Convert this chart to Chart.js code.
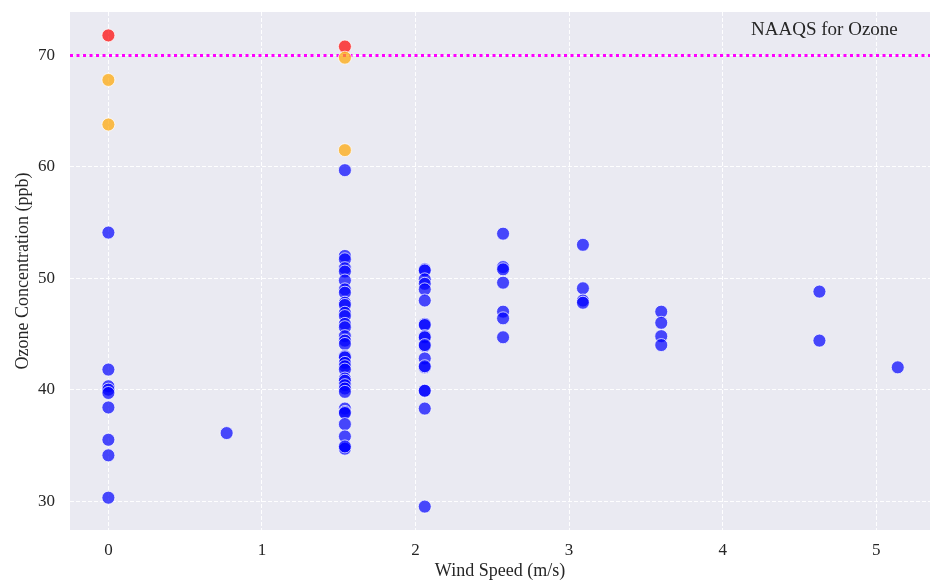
<!DOCTYPE html>
<html>
<head>
<meta charset="utf-8">
<script src="https://cdn.jsdelivr.net/npm/chart.js@4.4.1/dist/chart.umd.min.js"></script>
<style>
  html, body { margin: 0; padding: 0; background: #ffffff; overflow: hidden; }
  #wrap { width: 930px; height: 586px; }
  canvas { display: block; }
</style>
</head>
<body>
<div id="wrap"><canvas id="chart"></canvas></div>
<script>
// wind speed (m/s) and ozone (ppb) for each hourly reading
const windSpeed = [
  0, 0, 0, 0, 0, 0, 0, 0, 0, 0, 0, 0,
  0.77,
  1.54, 1.54, 1.54, 1.54, 1.54, 1.54, 1.54, 1.54, 1.54, 1.54, 1.54, 1.54, 1.54, 1.54, 1.54, 1.54,
  1.54, 1.54, 1.54, 1.54, 1.54, 1.54, 1.54, 1.54, 1.54, 1.54, 1.54, 1.54, 1.54, 1.54, 1.54, 1.54,
  1.54, 1.54, 1.54, 1.54, 1.54, 1.54,
  2.06, 2.06, 2.06, 2.06, 2.06, 2.06, 2.06, 2.06, 2.06, 2.06, 2.06, 2.06, 2.06, 2.06, 2.06, 2.06,
  2.06, 2.06, 2.06,
  2.57, 2.57, 2.57, 2.57, 2.57, 2.57, 2.57,
  3.09, 3.09, 3.09, 3.09,
  3.60, 3.60, 3.60, 3.60,
  4.63, 4.63,
  5.14
];
const ozone = [
  71.8, 67.8, 63.8, 54.1, 41.8, 40.3, 40.0, 39.7, 38.4, 35.5, 34.1, 30.3,
  36.1,
  70.8, 69.8, 61.5, 59.7, 52.0, 51.7, 50.9, 50.6, 49.8, 49.0, 48.7, 47.8, 47.6, 46.9, 46.6, 45.9,
  45.6, 44.8, 44.4, 44.1, 43.0, 42.9, 42.4, 42.1, 41.8, 41.0, 40.8, 40.4, 40.1, 39.8, 38.3, 38.0,
  37.9, 36.9, 35.8, 34.8, 34.7, 34.9,
  50.8, 50.7, 49.9, 49.5, 49.0, 48.0, 45.9, 45.8, 44.8, 44.7, 43.9, 44.0, 42.8, 42.0, 42.1, 39.9,
  39.9, 38.3, 29.5,
  54.0, 51.0, 50.8, 49.6, 47.0, 46.4, 44.7,
  53.0, 49.1, 48.0, 47.8,
  47.0, 46.0, 44.8, 44.0,
  48.8, 44.4,
  42.0
];
const naaqs = 70;
const elevated = 60;
const xTicks = [0, 1, 2, 3, 4, 5];
const yTicks = [30, 40, 50, 60, 70];
const limitLabel = 'NAAQS for Ozone';

const points = windSpeed.map((w, i) => ({ x: w, y: ozone[i] }));
const fillFor = v => v > naaqs ? 'rgba(255,0,0,0.7)' : (v > elevated ? 'rgba(255,165,0,0.7)' : 'rgba(0,0,255,0.7)');

const serif = '"Liberation Serif", "DejaVu Serif", serif';
const inkColor = '#262626';

// caption for the standard, anchored on the last wind speed value
const limitText = {
  id: 'limitText',
  afterDatasetsDraw(chart) {
    const { ctx, scales } = chart;
    ctx.save();
    ctx.font = '19px ' + serif;
    ctx.fillStyle = inkColor;
    ctx.textAlign = 'right';
    ctx.textBaseline = 'middle';
    ctx.fillText(limitLabel, scales.x.getPixelForValue(5.14), scales.y.getPixelForValue(72.3));
    ctx.restore();
  }
};

// seaborn-like grey panel behind the plot area
const panel = {
  id: 'panel',
  beforeDraw(chart) {
    const { ctx, chartArea: a } = chart;
    ctx.save();
    ctx.fillStyle = '#eaeaf2';
    ctx.fillRect(a.left, a.top, a.right - a.left, a.bottom - a.top);
    ctx.restore();
  }
};

const gridStyle = {
  color: 'rgba(255,255,255,0.95)',
  lineWidth: 1,
  drawTicks: false
};

new Chart(document.getElementById('chart'), {
  type: 'scatter',
  data: {
    datasets: [
      {
        type: 'line',
        data: [{ x: -0.25, y: naaqs }, { x: 5.35, y: naaqs }],
        borderColor: '#ff00ff',
        borderWidth: 3,
        borderDash: [3, 3.5],
        pointRadius: 0,
        order: 2
      },
      {
        data: points,
        backgroundColor: ctx => fillFor(ctx.raw.y),
        borderColor: 'rgba(255,255,255,0.75)',
        borderWidth: 1,
        pointRadius: 6.5,
        order: 1
      }
    ]
  },
  options: {
    responsive: true,
    maintainAspectRatio: false,
    animation: false,
    layout: { autoPadding: false, padding: { top: 12, right: 0, left: 0, bottom: 0 } },
    plugins: { legend: { display: false }, tooltip: { enabled: false } },
    scales: {
      x: {
        type: 'linear',
        min: -0.25,
        max: 5.35,
        border: { display: false, dash: [4, 2] },
        grid: gridStyle,
        afterBuildTicks: s => { s.ticks = xTicks.map(v => ({ value: v })); },
        afterFit: s => { s.height = 56; s.paddingLeft = 0; s.paddingRight = 0; },
        ticks: { color: inkColor, font: { family: serif, size: 17 }, padding: 10 },
        title: { display: true, text: 'Wind Speed (m/s)', color: inkColor, font: { family: serif, size: 18 }, padding: { top: 4 } }
      },
      y: {
        min: 27.4,
        max: 73.9,
        border: { display: false, dash: [4, 2] },
        grid: gridStyle,
        afterBuildTicks: s => { s.ticks = yTicks.map(v => ({ value: v })); },
        afterFit: s => { s.width = 70; s.paddingTop = 0; s.paddingBottom = 0; },
        ticks: { color: inkColor, font: { family: serif, size: 17 }, padding: 15 },
        title: { display: true, text: 'Ozone Concentration (ppb)', color: inkColor, font: { family: serif, size: 18 }, padding: { top: 12, bottom: 0 } }
      }
    }
  },
  plugins: [panel, limitText]
});
</script>
</body>
</html>
